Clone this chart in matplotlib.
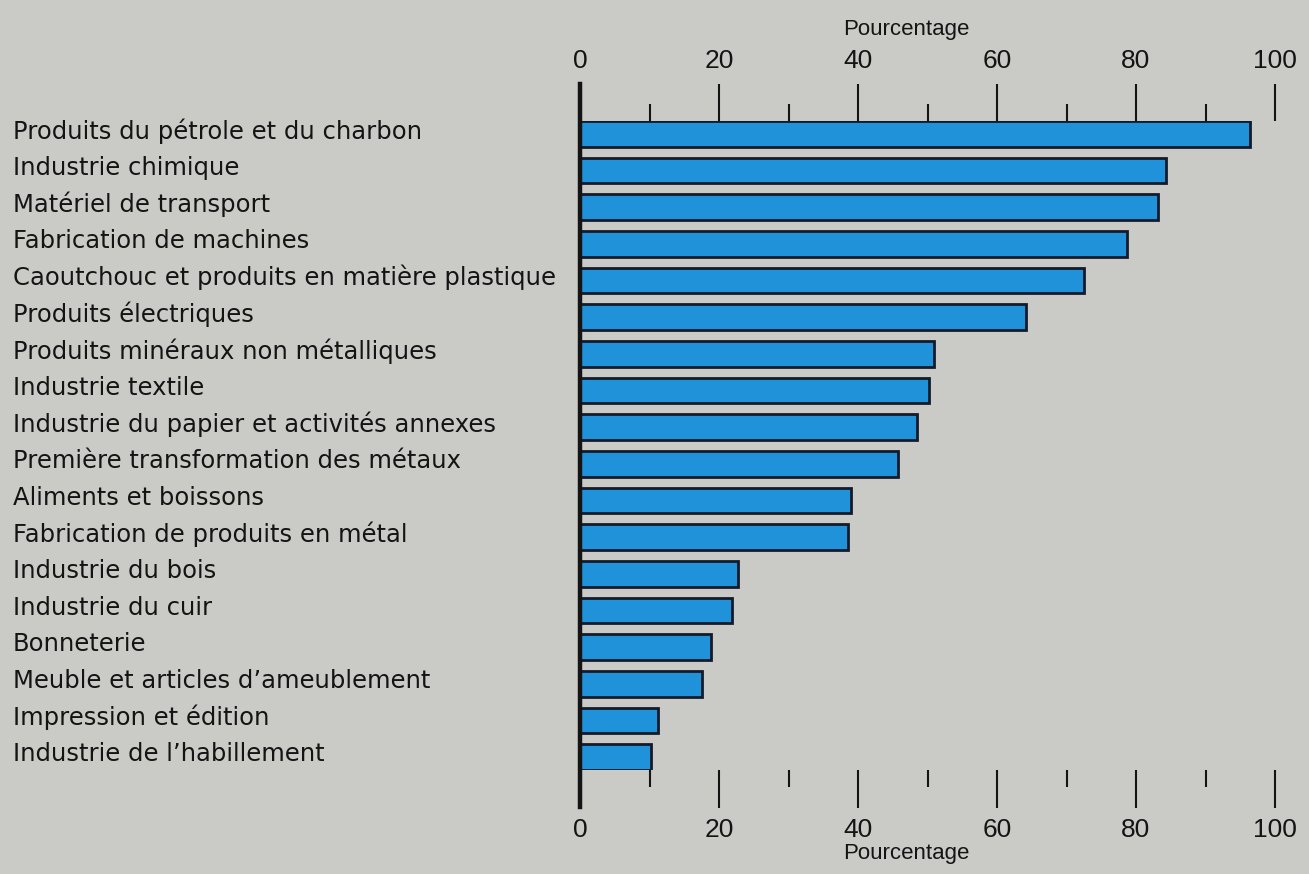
import matplotlib
matplotlib.use("Agg")
import matplotlib.pyplot as plt
import matplotlib.transforms as mtransforms

categories = [
    "Produits du pétrole et du charbon",
    "Industrie chimique",
    "Matériel de transport",
    "Fabrication de machines",
    "Caoutchouc et produits en matière plastique",
    "Produits électriques",
    "Produits minéraux non métalliques",
    "Industrie textile",
    "Industrie du papier et activités annexes",
    "Première transformation des métaux",
    "Aliments et boissons",
    "Fabrication de produits en métal",
    "Industrie du bois",
    "Industrie du cuir",
    "Bonneterie",
    "Meuble et articles d\u2019ameublement",
    "Impression et édition",
    "Industrie de l\u2019habillement",
]
values = [96.4, 84.3, 83.2, 78.7, 72.5, 64.2, 50.9, 50.2, 48.5, 45.8,
          39.0, 38.6, 22.7, 21.9, 18.8, 17.6, 11.2, 10.2]
major_ticks = [0, 20, 40, 60, 80, 100]
minor_ticks = [10, 30, 50, 70, 90]
axis_label = "Pourcentage"

plt.rcParams['font.family'] = ['Liberation Sans', 'DejaVu Sans']

BG = "#cacac7"
BAR = "#1f92da"
EDGE = "#141a2a"
INK = "#141414"

W, H = 1309, 874
fig = plt.figure(figsize=(W / 100, H / 100), dpi=100, facecolor=BG)
ax = fig.add_axes([580 / W, (H - 770) / H, 695 / W, (770 - 121) / H])
ax.set_facecolor(BG)

h = 0.70
ypos = list(range(len(categories)))
ax.barh(ypos, values, height=h, color=BAR, edgecolor=EDGE, linewidth=2.0, zorder=3)
ax.set_xlim(0, 100)
ax.set_ylim(len(categories) - 1 + h / 2, -h / 2)

for s in ax.spines.values():
    s.set_visible(False)

ax.set_xticks(major_ticks)
ax.set_xticks(minor_ticks, minor=True)
ax.set_xticklabels([str(t) for t in major_ticks])
ax.tick_params(axis='x', which='major', direction='out', length=27, width=1.5,
               color=INK, top=True, bottom=True, labeltop=True, labelbottom=True,
               labelsize=19, pad=7.5, labelcolor=INK)
ax.tick_params(axis='x', which='minor', direction='out', length=12.5, width=1.5,
               color=INK, top=True, bottom=True)
ax.tick_params(axis='y', left=False, labelleft=False)

ext = 37 / (770 - 121)
ax.axvline(0, ymin=-ext, ymax=1 + ext, color=INK, linewidth=3.2, clip_on=False, zorder=4)

trans = mtransforms.blended_transform_factory(fig.transFigure, ax.transData)
for y, c in zip(ypos, categories):
    ax.text(13 / W, y - 0.08, c, transform=trans, ha='left', va='center',
            fontsize=17.5, color=INK, family=['DejaVu Sans'])

tx = mtransforms.blended_transform_factory(ax.transData, fig.transFigure)
ax.text(47, (H - 30) / H, axis_label, transform=tx, ha='center', va='center',
        fontsize=16, color=INK)
ax.text(47, (H - 853) / H, axis_label, transform=tx, ha='center', va='center',
        fontsize=16, color=INK)

fig.savefig("out.png", dpi=100, facecolor=BG)
